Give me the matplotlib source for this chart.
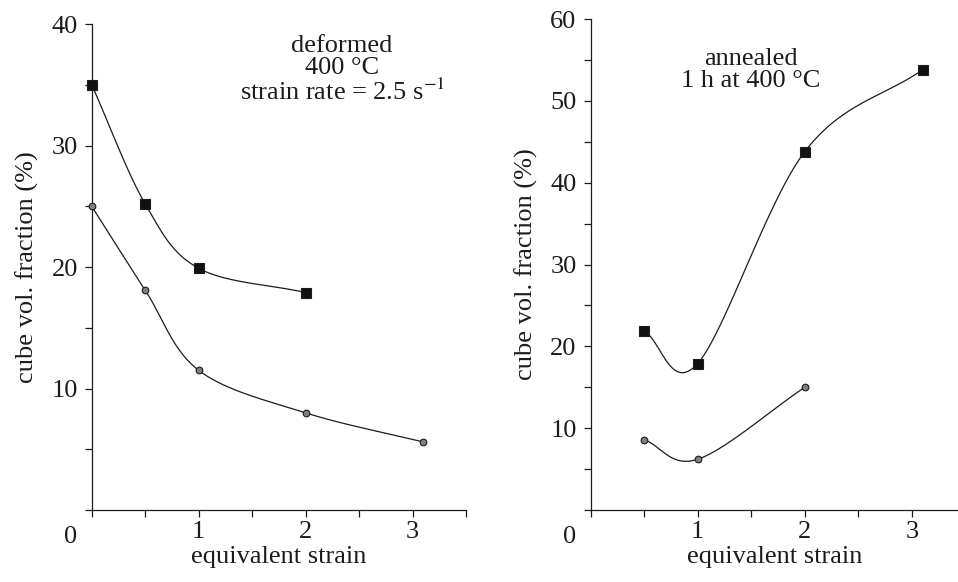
import matplotlib
matplotlib.use('Agg')
import matplotlib.pyplot as plt
import numpy as np

plt.rcParams['font.family'] = ['Liberation Serif', 'DejaVu Serif']
plt.rcParams['mathtext.fontset'] = 'stix'

# deformed panel
def_x_sq = [0.0, 0.5, 1.0, 2.0]
def_y_sq = [35.0, 25.2, 19.9, 17.9]
def_x_ci = [0.0, 0.5, 1.0, 2.0, 3.1]
def_y_ci = [25.0, 18.1, 11.5, 8.0, 5.6]

# annealed panel
ann_x_sq = [0.5, 1.0, 2.0, 3.1]
ann_y_sq = [21.9, 17.9, 43.8, 53.8]
ann_x_ci = [0.5, 1.0, 2.0]
ann_y_ci = [8.6, 6.2, 15.0]

INK = '#1c1c1c'


def smooth(xs, ys, n=40):
    # Catmull-Rom style smoothing, like a spreadsheet "smoothed line"
    p = np.column_stack([xs, ys]).astype(float)
    m = len(p)
    tang = np.zeros_like(p)
    for i in range(m):
        if i == 0:
            tang[i] = p[1] - p[0]
        elif i == m - 1:
            tang[i] = p[-1] - p[-2]
        else:
            tang[i] = (p[i + 1] - p[i - 1]) / 2
    out = []
    t = np.linspace(0, 1, n)[:, None]
    h00 = 2 * t**3 - 3 * t**2 + 1
    h10 = t**3 - 2 * t**2 + t
    h01 = -2 * t**3 + 3 * t**2
    h11 = t**3 - t**2
    for i in range(m - 1):
        seg = h00 * p[i] + h10 * tang[i] + h01 * p[i + 1] + h11 * tang[i + 1]
        out.append(seg)
    out = np.vstack(out)
    return out[:, 0], out[:, 1]


def style(ax, xmax, ymax, xticks, yticks, yminor):
    ax.set_xlim(0, xmax)
    ax.set_ylim(0, ymax)
    for s in ['top', 'right']:
        ax.spines[s].set_visible(False)
    for s in ['left', 'bottom']:
        ax.spines[s].set_linewidth(0.9)
        ax.spines[s].set_color(INK)
    ax.set_xticks(xticks)
    ax.set_xticklabels(['1' if v == 1 else '2' if v == 2 else '3' if v == 3 else ''
                        for v in xticks])
    ax.set_yticks(yticks)
    ax.set_yticklabels(['' if v == 0 else f'{v:g}' for v in yticks])
    ax.set_yticks(yminor, minor=True)
    ax.tick_params(axis='both', which='both', direction='out', length=5,
                   width=0.9, color=INK, labelcolor=INK, labelsize=19)
    ax.tick_params(axis='x', pad=3)
    ax.tick_params(axis='y', pad=5)
    ax.set_xlabel('equivalent strain', fontsize=19, color=INK, labelpad=2)
    ax.set_ylabel('cube vol. fraction (%)', fontsize=19, color=INK, labelpad=9)
    ax.annotate('0', xy=(0, 0), xytext=(-14.9, -19.4), textcoords='offset points',
                ha='center', va='center', fontsize=19, color=INK,
                annotation_clip=False)


def draw(ax, xs, ys, marker, size, face):
    cx, cy = smooth(xs, ys)
    ax.plot(cx, cy, color=INK, linewidth=0.9, zorder=2)
    ax.plot(xs, ys, linestyle='none', marker=marker, markersize=size,
            markerfacecolor=face, markeredgecolor=INK, markeredgewidth=0.8,
            zorder=3, clip_on=False)


fig = plt.figure(figsize=(9.58, 5.82), dpi=100)
ax1 = fig.add_axes([0.0957, 0.1237, 0.3907, 0.835])
ax2 = fig.add_axes([0.6164, 0.1237, 0.3836, 0.8436])

draw(ax1, def_x_sq, def_y_sq, 's', 6.5, '#111111')
draw(ax1, def_x_ci, def_y_ci, 'o', 4.8, '#808080')
style(ax1, 3.5, 40, np.arange(0, 3.51, 0.5), [0, 10, 20, 30, 40], [5, 15, 25, 35])

draw(ax2, ann_x_sq, ann_y_sq, 's', 6.5, '#111111')
draw(ax2, ann_x_ci, ann_y_ci, 'o', 4.8, '#808080')
style(ax2, 3.43, 60, np.arange(0, 3.01, 0.5), [0, 10, 20, 30, 40, 50, 60],
      [5, 15, 25, 35, 45, 55])

# va='baseline' on a multi-line text sits on the last line's baseline
ax1.text(0.669, 0.8436, 'deformed\n400 °C\n' + r'strain rate = 2.5 s$^{-1}$',
         transform=ax1.transAxes, ha='center', va='baseline',
         multialignment='center', linespacing=1.0, fontsize=19, color=INK)

ax2.text(0.4367, 0.8615, 'annealed\n1 h at 400 °C', transform=ax2.transAxes,
         ha='center', va='baseline', multialignment='center',
         linespacing=1.0, fontsize=19, color=INK)

fig.savefig('out.png', dpi=100)
